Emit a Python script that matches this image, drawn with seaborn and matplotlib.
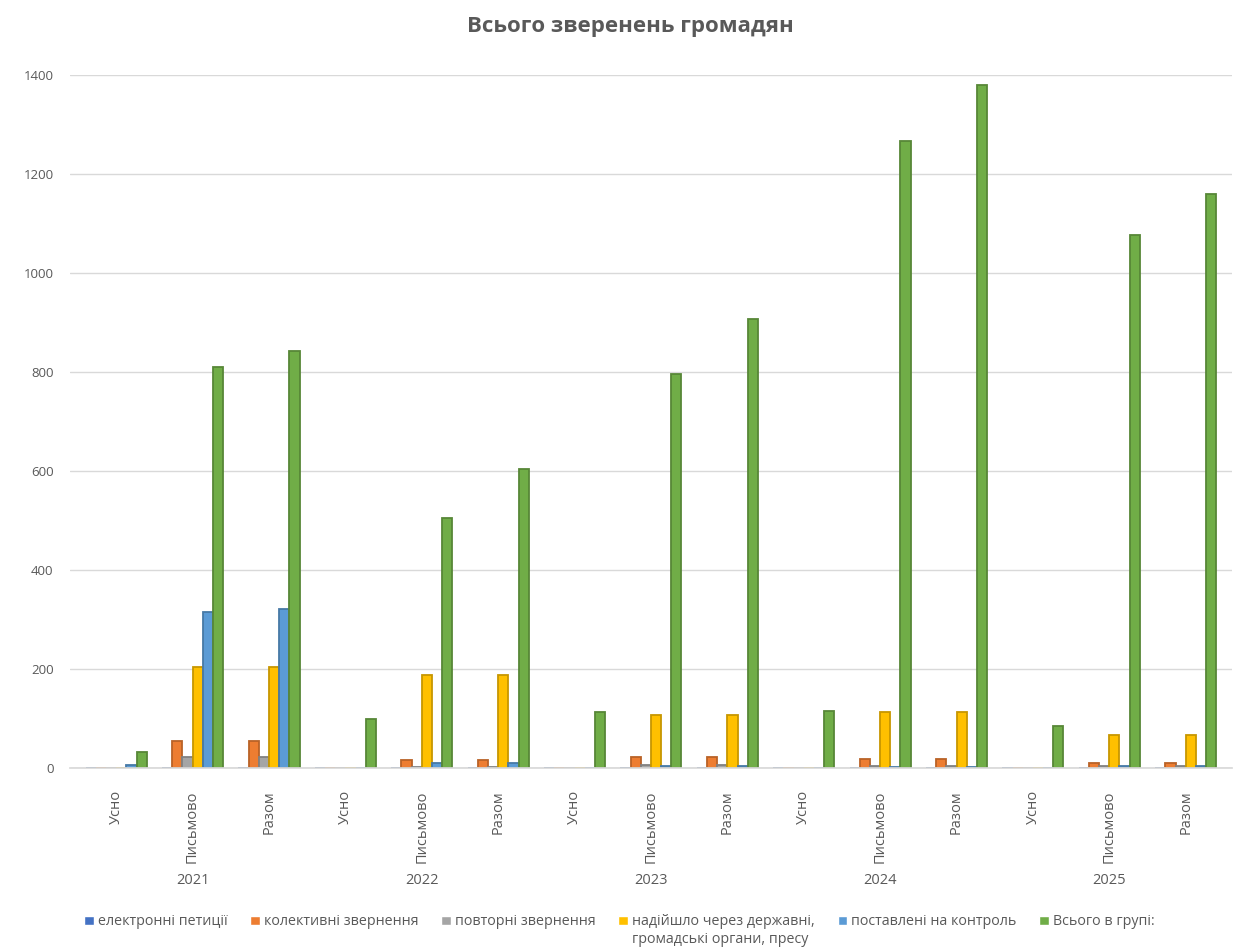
import matplotlib
matplotlib.use("Agg")
import matplotlib.pyplot as plt
import matplotlib.colors as mcolors
from matplotlib.patches import Rectangle
from matplotlib.legend_handler import HandlerPatch
import seaborn as sns
import pandas as pd

years = ["2021", "2022", "2023", "2024", "2025"]
kinds = ["Усно", "Письмово", "Разом"]

series = [
    "електронні петиції",
    "колективні звернення",
    "повторні звернення",
    "надійшло через державні,\nгромадські органи, пресу",
    "поставлені на контроль",
    "Всього в групі:",
]

# one value per (year, kind), in order: 2021 Усно, 2021 Письмово, 2021 Разом, 2022 Усно, ...
e_petitions = [0, 0, 0, 0, 0, 0, 0, 0, 0, 0, 0, 0, 0, 0, 0]
collective = [0, 55, 55, 0, 16, 16, 0, 22, 22, 0, 18, 18, 0, 10, 10]
repeated = [0, 22, 22, 0, 2, 2, 0, 5, 5, 0, 3, 3, 0, 3, 3]
via_agencies = [0, 204, 204, 0, 188, 188, 0, 107, 107, 0, 113, 114, 0, 66, 66]
on_control = [5, 315, 321, 0, 10, 10, 0, 3, 3, 0, 2, 2, 0, 3, 3]
total = [32, 810, 842, 99, 505, 604, 113, 796, 908, 115, 1266, 1380, 85, 1076, 1160]

palette = ["#4472C4", "#ED7D31", "#A5A5A5", "#FFC000", "#5B9BD5", "#70AD47"]
text_grey = "#595959"

categories = [f"{y} {k}" for y in years for k in kinds]
rows = []
for name, vals in zip(series, [e_petitions, collective, repeated, via_agencies, on_control, total]):
    for cat, v in zip(categories, vals):
        rows.append({"cat": cat, "series": name, "value": v})
df = pd.DataFrame(rows)

sns.set_theme(style="white")
plt.rcParams["font.family"] = ["Open Sans", "DejaVu Sans"]

fig = plt.figure(figsize=(12.34, 9.51), dpi=100)
ax = fig.add_axes([0.057, 0.1925, 0.941, 0.7285])

sns.barplot(
    data=df, x="cat", y="value", hue="series", order=categories,
    hue_order=series, palette=palette, width=0.8, gap=0,
    ax=ax, legend=True, saturation=1,
)

# darker outline gives each bar a bit of depth; zero bars show as a thin slab
for cont, col in zip(ax.containers, palette):
    dark = tuple(c * 0.78 for c in mcolors.to_rgb(col))
    for p in cont.patches:
        p.set_edgecolor(dark)
        p.set_linewidth(1.3)

ax.set_ylim(0, 1400)
ax.set_xlim(-0.6, len(categories) - 0.4)
ax.set_yticks(range(0, 1401, 200))
ax.yaxis.grid(True, color="#D9D9D9", linewidth=1)
ax.set_axisbelow(True)
for s in ["top", "right", "left"]:
    ax.spines[s].set_visible(False)
ax.spines["bottom"].set_color("#D9D9D9")
ax.tick_params(axis="y", colors=text_grey, labelsize=9.5, length=0, pad=12)
ax.set_xticks(range(len(categories)))
ax.set_xticklabels([k for y in years for k in kinds], rotation=90, va="top",
                   ha="center", fontsize=10.5, color=text_grey)
ax.tick_params(axis="x", length=0, pad=16)
ax.set_xlabel("")
ax.set_ylabel("")

for i, y in enumerate(years):
    ax.text(i * 3 + 1, -0.162, y, transform=ax.get_xaxis_transform(),
            ha="center", va="center", fontsize=10.5, color=text_grey)

fig.text(0.511, 0.972, "Всього зверенень громадян", fontsize=16,
         fontweight="bold", color=text_grey, ha="center", va="center")


# square legend keys sit level with the first line of each label
def top_square(legend, orig_handle, xdescent, ydescent, width, height, fontsize):
    return Rectangle((-xdescent, -ydescent + 0.72 * fontsize), width, height)


handles, labels = ax.get_legend_handles_labels()
ax.legend_.remove()
labels = [lab if "\n" in lab else lab + "\n " for lab in labels]
fig.legend(handles, labels, loc="upper center", bbox_to_anchor=(0.502, 0.049),
           ncol=6, frameon=False, fontsize=10.3, labelcolor=text_grey,
           handlelength=0.65, handleheight=0.65, handletextpad=0.3,
           columnspacing=1.6, labelspacing=0, borderpad=0.2,
           handler_map={h: HandlerPatch(patch_func=top_square) for h in handles})

fig.savefig("out.png", dpi=100, facecolor="white")
